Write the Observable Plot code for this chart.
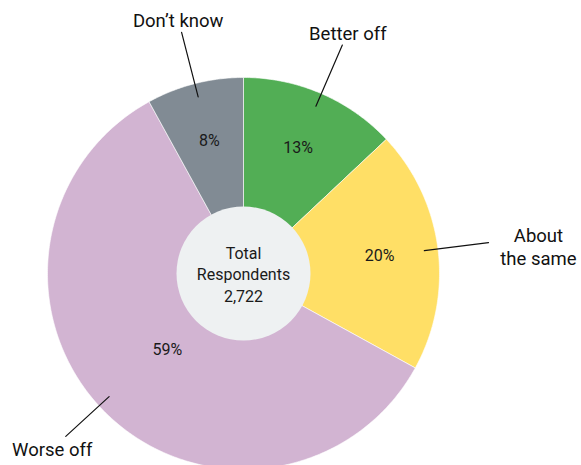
<!DOCTYPE html>
<html><head><meta charset="utf-8">
<script src="https://cdn.jsdelivr.net/npm/d3@7"></script>
<script src="https://cdn.jsdelivr.net/npm/@observablehq/plot@0.6"></script>
<style>body{margin:0;overflow:hidden;background:#fff}</style>
</head><body><div id="chart"></div>
<script>
// data
const categories = ["Better off", "About the same", "Worse off", "Don't know"];
const shares = [13, 20, 59, 8];
const pctLabels = ["13%", "20%", "59%", "8%"];
const outsideLabels = ["Better off", "About\nthe same", "Worse off", "Don\u2019t know"];
const colors = ["#52ae55", "#ffdf66", "#d2b4d2", "#818b94"];
const centerText = "Total\nRespondents\n2,722";

// layout (not data)
const pctRadius = [0.70, 0.70, 0.55, 0.70];
const leaderLayout = [{a: 0, r0: 0.93, r1: 1.27}, {a: 0, r0: 0.93, r1: 1.26}, {a: 2.5, r0: 0.93, r1: 1.23}, {a: 0, r0: 0.93, r1: 1.27}];
const labelPos = [{r: 1.34, dx: 0, dy: 0}, {r: 1.27, dx: 48, dy: 4}, {r: 1.33, dx: -7, dy: -9}, {r: 1.34, dx: 0, dy: 0}];

const pie = d3.pie().sort(null).value(d => d)(shares);
const polar = (a, r) => [r * Math.sin(a), r * Math.cos(a)];

const slicePts = [];
pie.forEach((p, i) => {
  slicePts.push({k: categories[i], x: 0, y: 0});
  const n = Math.max(4, Math.ceil((p.endAngle - p.startAngle) / 0.01));
  for (let j = 0; j <= n; j++) {
    const a = p.startAngle + (p.endAngle - p.startAngle) * j / n;
    const [x, y] = polar(a, 1);
    slicePts.push({k: categories[i], x, y});
  }
  slicePts.push({k: categories[i], x: 0, y: 0});
});
const mid = pie.map(p => (p.startAngle + p.endAngle) / 2);
const pctData = pie.map((p, i) => { const [x, y] = polar(mid[i], pctRadius[i]); return {x, y, t: pctLabels[i]}; });
const leaders = [];
pie.forEach((p, i) => {
  const L = leaderLayout[i], a = mid[i] + L.a * Math.PI / 180;
  [L.r0, L.r1].forEach(r => { const [x, y] = polar(a, r); leaders.push({k: categories[i], x, y}); });
});
const outData = pie.map((p, i) => { const [x, y] = polar(mid[i], labelPos[i].r); return {x, y, dx: labelPos[i].dx, dy: labelPos[i].dy, t: outsideLabels[i]}; });

const cx = 243, cy = 273, R = 196;
const chart = Plot.plot({
  width: 581, height: 465, margin: 0,
  x: {domain: [-1, 1], range: [cx - R, cx + R], axis: null},
  y: {domain: [-1, 1], range: [cy + R, cy - R], axis: null},
  color: {domain: categories, range: colors},
  style: {fontFamily: "Roboto, sans-serif", background: "#fff", overflow: "hidden"},
  marks: [
    Plot.line(slicePts, {x: "x", y: "y", z: "k", fill: "k", stroke: "white", strokeWidth: 0.6, curve: "linear"}),
    Plot.dot([{x: 0, y: 0}], {x: "x", y: "y", r: 67, fill: "#eef1f2", stroke: "none"}),
    Plot.text([{x: 0, y: 0}], {x: "x", y: "y", text: () => centerText, fontSize: 16, fill: "#1a1a1a", lineHeight: 1.35}),
    Plot.text(pctData, {x: "x", y: "y", text: "t", fontSize: 16, fill: "#1a1a1a"}),
    Plot.line(leaders, {x: "x", y: "y", z: "k", stroke: "#111", strokeWidth: 1.2}),
    ...outData.map(d => Plot.text([d], {x: "x", y: "y", text: "t", dx: d.dx, dy: d.dy, fontSize: 18.5, fill: "#111", lineHeight: 1.25}))
  ]
});
document.getElementById("chart").append(chart);
</script></body></html>
